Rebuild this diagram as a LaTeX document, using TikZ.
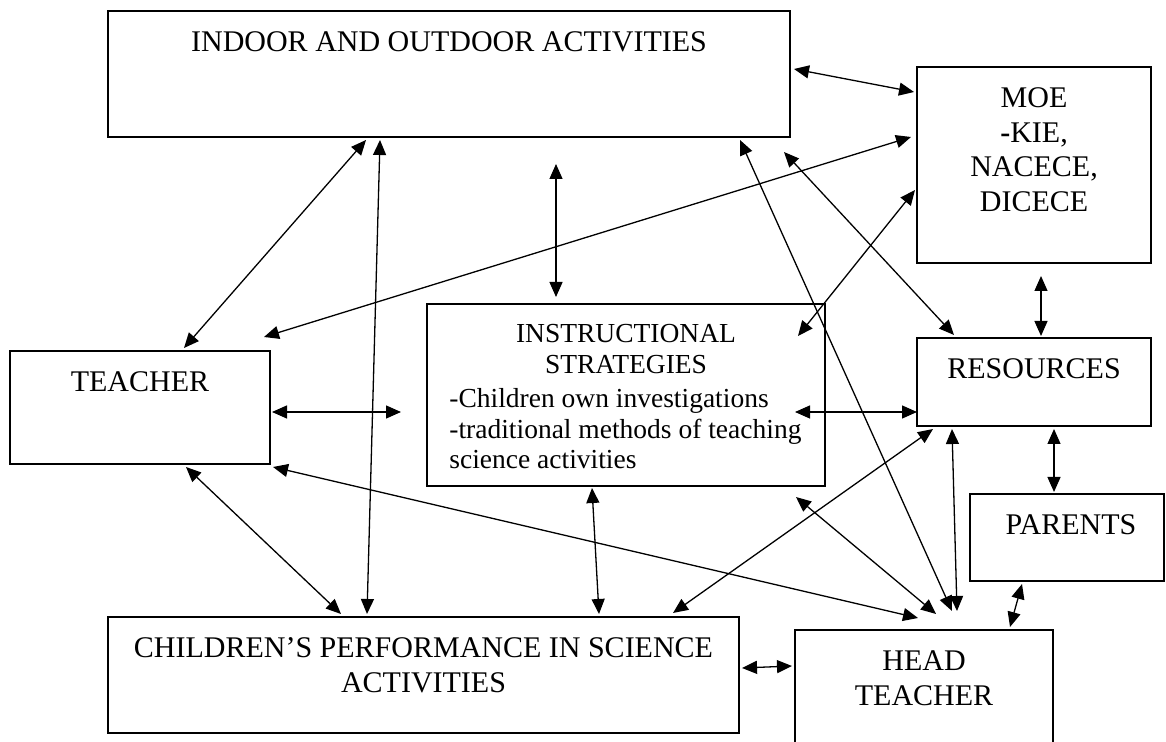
\documentclass[tikz,border=0pt]{standalone}
\usepackage{fontspec}
\setmainfont{Liberation Serif}
\usetikzlibrary{arrows.meta}
\begin{document}
\begin{tikzpicture}[x=0.5pt,y=-0.5pt,
    box/.style={draw, line width=1pt, inner sep=0pt},
    txt/.style={inner sep=0pt, align=center, anchor=north, font=\fontsize{15}{17.4}\selectfont},
    link/.style={{Triangle[length=7.5pt,width=6.5pt]}-{Triangle[length=7.5pt,width=6.5pt]}, line width=0.65pt}]
\useasboundingbox (0,0) rectangle (1166,742);

    % boxes
    \node[box, minimum width=341pt, minimum height=63pt] (indoor) at (449,74) {};
    \node[box, minimum width=117pt, minimum height=98pt] (moe) at (1034,165) {};
    \node[box, minimum width=130pt, minimum height=56.5pt] (teacher) at (140,407.5) {};
    \node[box, minimum width=199pt, minimum height=91pt] (instr) at (626,395) {};
    \node[box, minimum width=117pt, minimum height=44pt] (res) at (1034,382) {};
    \node[box, minimum width=97pt, minimum height=43.5pt] (parents) at (1067,537.5) {};
    \node[box, minimum width=129pt, minimum height=75pt] (head) at (924,705) {};
    \node[box, minimum width=315.5pt, minimum height=58pt] (children) at (423.5,675) {};

    % texts
    \node[txt] (indoortxt) at ([shift={(0,21)}]indoor.north) {INDOOR AND OUTDOOR ACTIVITIES};
    \node[txt] (moetxt) at ([shift={(0,21)}]moe.north) {MOE\\\textbf{-}KIE,\\NACECE,\\DICECE};
    \node[txt] (teachertxt) at ([shift={(0,21)}]teacher.north) {TEACHER};
    \node[txt, font=\fontsize{13.75}{15.6}\selectfont] (instrtitle) at ([shift={(0,21)}]instr.north) {INSTRUCTIONAL\\STRATEGIES};
    \node[txt, anchor=north west, align=left, font=\fontsize{13.75}{15.3}\selectfont] (instrtxt) at ([shift={(23,85)}]instr.north west)
        {-Children own investigations\\-traditional methods of teaching\\science activities};
    \node[txt] (restxt) at ([shift={(0,21)}]res.north) {RESOURCES};
    \node[txt] (parentstxt) at ([shift={(4,21)}]parents.north) {PARENTS};
    \node[txt] (headtxt) at ([shift={(0,21)}]head.north) {HEAD\\TEACHER};
    \node[txt] (childrentxt) at ([shift={(0,21)}]children.north) {CHILDREN’S PERFORMANCE IN SCIENCE\\ACTIVITIES};

    % connectors
    \draw[link] ([shift={(3,-5)}]indoor.east) -- ([shift={(-2,26)}]moe.north west);
    \draw[link] ([shift={(-83,2)}]indoor.south) -- ([shift={(44,-2)}]teacher.north);
    \draw[link] ([shift={(-69,2)}]indoor.south) -- ([shift={(-56.5,-2)}]children.north);
    \draw[link] ([shift={(107,26)}]indoor.south) -- ([shift={(-70,-6)}]instr.north);
    \draw[link] ([shift={(-7,-13)}]teacher.north east) -- ([shift={(-5,-28)}]moe.west);
    \draw[link] ([shift={(-51,2)}]indoor.south east) -- ([shift={(158,-18)}]head.north west);
    \draw[link] ([shift={(-7,14)}]indoor.south east) -- ([shift={(38,-2)}]res.north west);
    \draw[link] ([shift={(-1,25)}]moe.west) -- ([shift={(-28,33)}]instr.north east);
    \draw[link] ([shift={(7,12)}]moe.south) -- ([shift={(7,-1)}]res.north);
    \draw[link] ([shift={(1,4.5)}]teacher.east) -- ([shift={(-25,17)}]instr.west);
    \draw[link] ([shift={(-31,17)}]instr.east) -- ([shift={(1,30)}]res.west);
    \draw[link] ([shift={(46,2)}]teacher.south) -- ([shift={(-82.5,-2)}]children.north);
    \draw[link] ([shift={(2,2)}]teacher.south east) -- ([shift={(124,-11)}]head.north west);
    \draw[link] ([shift={(-34,1)}]instr.south) -- ([shift={(-141,-2)}]children.north east);
    \draw[link] ([shift={(17,2)}]res.south west) -- ([shift={(-67,-3)}]children.north east);
    \draw[link] ([shift={(-30,10)}]instr.south east) -- ([shift={(142,-15)}]head.north west);
    \draw[link] ([shift={(36,2)}]res.south west) -- ([shift={(163,-18)}]head.north west);
    \draw[link] ([shift={(20,2)}]res.south) -- ([shift={(-13,-1)}]parents.north);
    \draw[link] ([shift={(53,2)}]parents.south west) -- ([shift={(216,-2)}]head.north west);
    \draw[link] ([shift={(2,-7)}]children.east) -- ([shift={(-2,37)}]head.north west);
\end{tikzpicture}
\end{document}
